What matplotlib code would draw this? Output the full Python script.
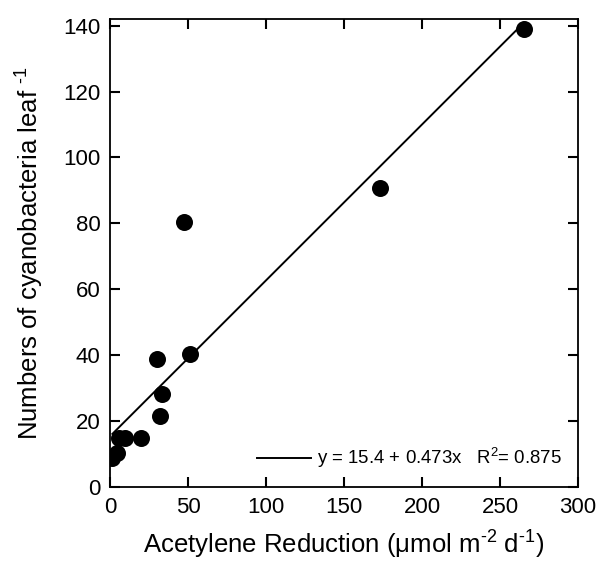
import numpy as np
import matplotlib
matplotlib.use('Agg')
import matplotlib.pyplot as plt

plt.rcParams['font.family'] = ['Liberation Sans', 'DejaVu Sans']
plt.rcParams['mathtext.default'] = 'regular'

# acetylene reduction (umol m-2 d-1) vs cyanobacteria per leaf
acetylene = [265.3, 173.3, 47.3, 29.8, 51.2, 33.0, 32.0, 19.6, 9.6, 5.5, 4.5, 1.5]
cyano = [139.1, 90.6, 80.3, 38.7, 40.3, 28.2, 21.5, 14.8, 14.8, 14.8, 10.2, 8.8]

intercept = 15.4
slope = 0.473
r2 = 0.875

fig = plt.figure(figsize=(5.98, 5.69), dpi=100)
ax = fig.add_axes([0.184, 0.1441, 0.7826, 0.8225])

ax.scatter(acetylene, cyano, s=150, color='black', zorder=3, linewidths=0)

xfit = np.array([min(acetylene), max(acetylene)])
ax.plot(xfit, intercept + slope * xfit, color='black', lw=1.4,
        label='y = %.1f + %.3fx   R$^2$= %.3f' % (intercept, slope, r2))

ax.set_xlim(0, 300)
ax.set_ylim(0, 142)
ax.set_xticks(np.arange(0, 301, 50))
ax.set_yticks(np.arange(0, 141, 20))
ax.tick_params(direction='in', length=7, width=1.5, top=True, right=True,
               labelsize=16, pad=7)
for sp in ax.spines.values():
    sp.set_linewidth(1.3)

ax.set_xlabel('Acetylene Reduction (μmol m$^{\u20102}$ d$^{\u20101}$)', fontsize=18.5, labelpad=8)
ax.set_ylabel('Numbers of cyanobacteria leaf $^{\u20101}$', fontsize=18.5, labelpad=12)

ax.legend(loc='lower right', frameon=False, fontsize=13.4, handlelength=2.9,
          handletextpad=0.3, borderaxespad=0.5)

fig.savefig('out.png', dpi=100)
